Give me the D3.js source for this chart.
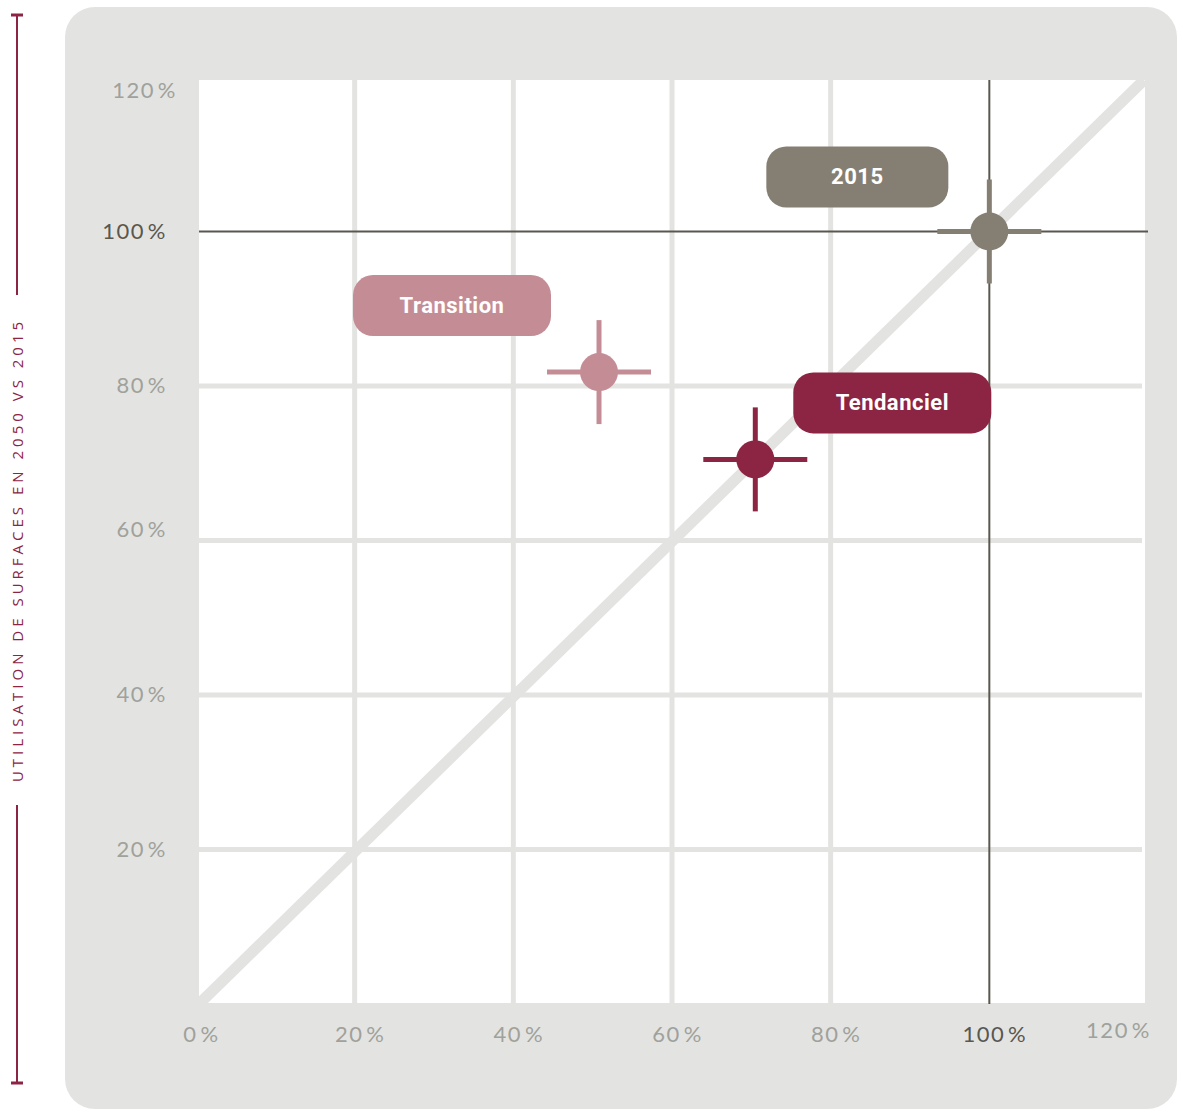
<!DOCTYPE html>
<html>
<head>
<meta charset="utf-8">
<script src="https://cdn.jsdelivr.net/npm/d3@7"></script>
<style>
  body { margin: 0; background: #fff; }
  svg { display: block; }
  .tick text { font-family: Lato, "Open Sans", sans-serif; font-size: 22px; letter-spacing: 1.5px; }
</style>
</head>
<body>
<svg id="chart" width="1177" height="1110"></svg>
<script>
// scenarios: surface use 2050 vs 2015 (x and y in %)
var scenarios = ["2015", "Transition", "Tendanciel"];
var xValues   = [100, 50.8, 70.5];
var yValues   = [100, 81.8, 70.5];
var tickValues = [0, 20, 40, 60, 80, 100, 120];
var yTitle = "UTILISATION DE SURFACES EN 2050 VS 2015";

var colors = { "2015": "#857f73", "Transition": "#c48d95", "Tendanciel": "#8c2443" };
// label box offset from point, in px
var labelShift = { "2015": [-132, -55], "Transition": [-147, -67], "Tendanciel": [137, -57] };
var labelWidth = { "2015": 182, "Transition": 198, "Tendanciel": 198 };

var svg = d3.select('#chart');
var grey = "#e3e4e2";
var dark = "#5a574f";

var x = d3.scaleLinear().domain([0, 120]).range([196, 1148]);
var y = d3.scaleLinear().domain([0, 120]).range([1004, 77]);
var left = 199;

// background panel
svg.append("rect")
  .attr("x", 65).attr("y", 7)
  .attr("width", 1112).attr("height", 1102)
  .attr("rx", 30)
  .attr("fill", grey);

svg.append("rect")
  .attr("x", left).attr("y", y(120) + 3)
  .attr("width", x(120) - left - 3)
  .attr("height", y(0) - y(120) - 4)
  .attr("fill", "#fff");

// grid
var inner = tickValues.filter(function(d) { return d > 0 && d < 100; });
svg.selectAll(".hgrid").data(inner).enter().append("line")
  .attr("class", "hgrid")
  .attr("x1", left).attr("x2", x(120) - 6)
  .attr("y1", function(d) { return y(d); }).attr("y2", function(d) { return y(d); })
  .attr("stroke", grey).attr("stroke-width", 5);
svg.selectAll(".vgrid").data(inner).enter().append("line")
  .attr("class", "vgrid")
  .attr("y1", y(120) + 3).attr("y2", y(0))
  .attr("x1", function(d) { return x(d); }).attr("x2", function(d) { return x(d); })
  .attr("stroke", grey).attr("stroke-width", 5);

// diagonal
svg.append("line")
  .attr("x1", left).attr("y1", y(0))
  .attr("x2", x(120) - 4).attr("y2", y(120) + 3)
  .attr("stroke", grey).attr("stroke-width", 11);

// 100% reference lines
svg.append("line")
  .attr("x1", left).attr("x2", x(120))
  .attr("y1", y(100)).attr("y2", y(100))
  .attr("stroke", dark).attr("stroke-width", 2);
svg.append("line")
  .attr("x1", x(100)).attr("x2", x(100))
  .attr("y1", y(120) + 3).attr("y2", y(0))
  .attr("stroke", dark).attr("stroke-width", 2);

// axes (labels only)
function pct(d) { return d + "\u200A%"; }
var xAxis = svg.append("g")
  .attr("transform", "translate(0," + 1042 + ")")
  .call(d3.axisBottom(x).tickValues(tickValues).tickSize(0).tickPadding(0).tickFormat(pct));
xAxis.select(".domain").remove();
xAxis.selectAll(".tick text")
  .attr("dy", 0)
  .attr("fill", function(d) { return d === 100 ? dark : "#a0a19b"; })
  .attr("transform", function(d) { return d === 120 ? "translate(-30,-4)" : "translate(5,0)"; });

var yAxis = svg.append("g")
  .attr("transform", "translate(167,0)")
  .call(d3.axisLeft(y).tickValues(tickValues.slice(1)).tickSize(0).tickPadding(0).tickFormat(pct));
yAxis.select(".domain").remove();
yAxis.selectAll(".tick text")
  .attr("x", function(d) { return d === 120 ? 10 : 0; })
  .attr("dy", function(d) { return d === 120 ? 20 : (d === 60 ? -4 : "0.3em"); })
  .attr("fill", function(d) { return d === 100 ? dark : "#a0a19b"; });

// y title with bracket line
var titleCol = "#8c2443";
svg.append("text")
  .attr("transform", "translate(23,550) rotate(-90)")
  .attr("text-anchor", "middle")
  .attr("font-family", "'Open Sans', sans-serif")
  .attr("font-size", 15)
  .attr("letter-spacing", 4)
  .attr("fill", titleCol)
  .text(yTitle);
[[15, 295], [805, 1083]].forEach(function(seg) {
  svg.append("line").attr("x1", 17).attr("x2", 17).attr("y1", seg[0]).attr("y2", seg[1])
    .attr("stroke", titleCol).attr("stroke-width", 2);
});
[15, 1083].forEach(function(v) {
  svg.append("line").attr("x1", 11).attr("x2", 23).attr("y1", v).attr("y2", v)
    .attr("stroke", titleCol).attr("stroke-width", 3);
});

// points
var pts = svg.selectAll(".pt").data(scenarios).enter().append("g")
  .attr("class", "pt")
  .attr("transform", function(d, i) { return "translate(" + x(xValues[i]) + "," + y(yValues[i]) + ")"; });
pts.append("line").attr("x1", -52).attr("x2", 52)
  .attr("stroke", function(d) { return colors[d]; }).attr("stroke-width", 5);
pts.append("line").attr("y1", -52).attr("y2", 52)
  .attr("stroke", function(d) { return colors[d]; }).attr("stroke-width", 5);
pts.append("circle").attr("r", 19).attr("fill", function(d) { return colors[d]; });

// labels
var lab = pts.append("g")
  .attr("transform", function(d) { return "translate(" + labelShift[d][0] + "," + labelShift[d][1] + ")"; });
lab.append("rect")
  .attr("x", function(d) { return -labelWidth[d] / 2; })
  .attr("y", -30)
  .attr("width", function(d) { return labelWidth[d]; })
  .attr("height", 61)
  .attr("rx", 20)
  .attr("fill", function(d) { return colors[d]; });
lab.append("text")
  .attr("text-anchor", "middle")
  .attr("dy", "0.36em")
  .attr("font-family", "Roboto, sans-serif")
  .attr("font-weight", 700)
  .attr("font-size", 22)
  .attr("letter-spacing", 0.5)
  .attr("fill", "#fff")
  .text(function(d) { return d; });
</script>
</body>
</html>
